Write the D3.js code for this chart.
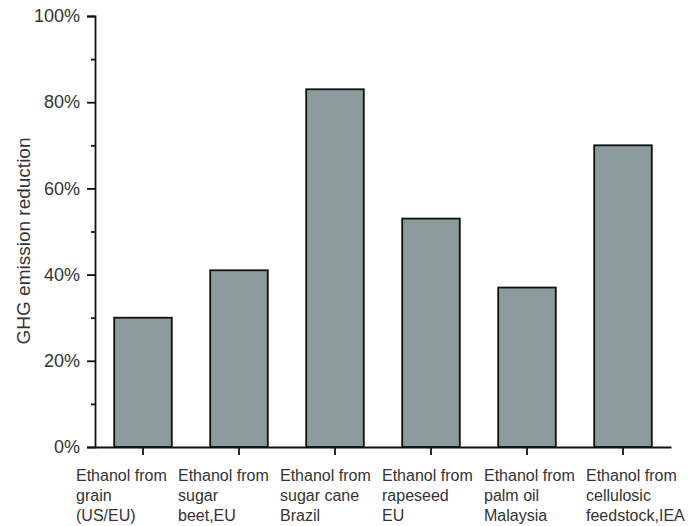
<!DOCTYPE html>
<html><head><meta charset="utf-8">
<script src="https://cdn.jsdelivr.net/npm/d3@7"></script>
<style>body{margin:0;background:#fff;} text{font-family:"Liberation Sans",Arial,sans-serif;}</style>
</head><body>
<svg id="c" width="688" height="526"></svg>
<script>
const categories = [
  ["Ethanol from","grain","(US/EU)"],
  ["Ethanol from","sugar","beet,EU"],
  ["Ethanol from","sugar cane","Brazil"],
  ["Ethanol from","rapeseed","EU"],
  ["Ethanol from","palm oil","Malaysia"],
  ["Ethanol from","cellulosic","feedstock,IEA"]
];
const values = [30, 41, 83, 53, 37, 70];
const yTicks = [0, 20, 40, 60, 80, 100];
const yMinorTicks = [10, 30, 50, 70, 90];
const yTitle = "GHG emission reduction";

(function(){
const svg = d3.select("#c");
const mL = 95, mR = 671, mT = 16, mB = 447;
const ids = categories.map((d,i)=>i);
const x = d3.scaleBand().domain(ids).range([mL, mR]).paddingInner(0.4).paddingOuter(0.2);
const y = d3.scaleLinear().domain([0,100]).range([mB, mT]);
const textCol = "#333";

// bars
svg.append("g").selectAll("rect").data(values).join("rect")
  .attr("x",(d,i)=>x(i)).attr("width",x.bandwidth())
  .attr("y",d=>y(d)).attr("height",d=>y(0)-y(d))
  .attr("fill","#8b9a9d").attr("stroke","#111").attr("stroke-width",1.8);

// y axis
const ya = svg.append("g").attr("transform",`translate(${mL},0)`)
  .call(d3.axisLeft(y).tickValues(yTicks).tickFormat(d=>d+"%").tickSize(8).tickPadding(7));
ya.select(".domain").attr("stroke","#111").attr("stroke-width",1.8);
ya.selectAll(".tick line").attr("stroke","#111").attr("stroke-width",1.8);
ya.selectAll(".tick text").attr("fill",textCol).style("font-size","18px").style("font-family","'Liberation Sans',Arial,sans-serif");
const ym = svg.append("g").attr("transform",`translate(${mL},0)`)
  .call(d3.axisLeft(y).tickValues(yMinorTicks).tickFormat("").tickSize(4));
ym.select(".domain").remove();
ym.selectAll(".tick line").attr("stroke","#111").attr("stroke-width",1.8);

// x axis
const xa = svg.append("g").attr("transform",`translate(0,${mB})`)
  .call(d3.axisBottom(x).tickFormat("").tickSize(8).tickSizeOuter(0));
xa.select(".domain").attr("stroke","#111").attr("stroke-width",1.8);
xa.selectAll(".tick line").attr("stroke","#111").attr("stroke-width",1.8);

// x labels (multi-line, left-aligned)
const lx = i => x(i)+x.bandwidth()/2-67+i*6;
const lab = svg.append("g").selectAll("text").data(categories).join("text")
  .attr("x",(d,i)=>lx(i))
  .attr("y",481)
  .attr("fill",textCol).style("font-size","16px");
lab.selectAll("tspan").data((d,i)=>d.map(s=>({s,i}))).join("tspan")
  .attr("x",d=>lx(d.i))
  .attr("dy",(d,j)=>j===0?0:20)
  .text(d=>d.s);

// y title
svg.append("text").attr("transform",`translate(30,241) rotate(-90)`)
  .attr("text-anchor","middle").attr("fill",textCol).style("font-size","19px").text(yTitle);
})();
</script>
</body></html>
